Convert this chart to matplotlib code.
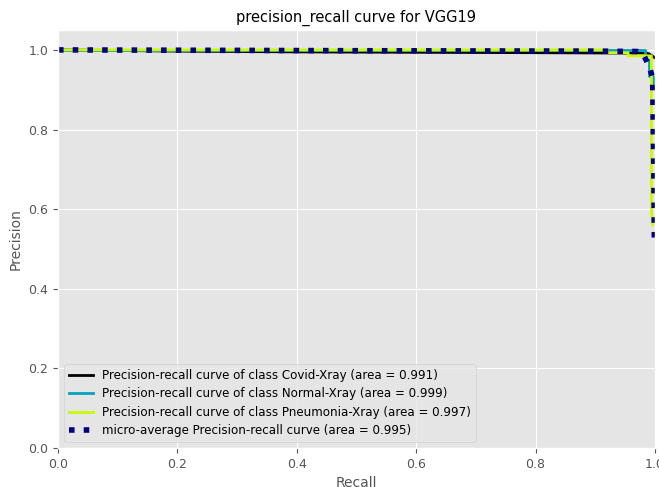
import matplotlib
matplotlib.use("Agg")
import matplotlib.pyplot as plt
import numpy as np

plt.style.use("ggplot")

classes = ["Covid-Xray", "Normal-Xray", "Pneumonia-Xray"]
areas = [0.991, 0.999, 0.997]
micro_area = 0.995

# recall / precision points for each class curve
covid_recall = [0.0, 0.2, 0.4, 0.6, 0.8, 0.95, 0.985, 0.99, 0.995, 1.0]
covid_precision = [1.0, 0.997, 0.995, 0.994, 0.993, 0.992, 0.992, 0.99, 0.985, 0.98]

normal_recall = [0.0, 0.5, 0.9, 0.983, 0.983, 0.99, 0.99, 0.996, 0.996]
normal_precision = [1.0, 1.0, 1.0, 1.0, 0.975, 0.975, 0.935, 0.935, 0.915]

pneu_recall = [0.0, 0.5, 0.92, 0.92, 0.955, 0.955, 0.994, 0.994, 0.996]
pneu_precision = [1.0, 1.0, 1.0, 0.993, 0.993, 0.985, 0.985, 0.60, 0.56]

micro_recall = [0.0, 0.5, 0.9, 0.97, 0.98, 0.985, 0.99, 0.996, 0.998, 0.999]
micro_precision = [1.0, 0.998, 0.997, 0.996, 0.99, 0.975, 0.96, 0.93, 0.70, 0.51]

series = [
    (covid_recall, covid_precision),
    (normal_recall, normal_precision),
    (pneu_recall, pneu_precision),
]

fig = plt.figure(figsize=(6.59, 4.87), dpi=100)
ax = fig.add_axes([58 / 659, 39 / 487, 597 / 659, 418 / 487])

cmap = plt.get_cmap("nipy_spectral")
for i, (name, area, (r, p)) in enumerate(zip(classes, areas, series)):
    color = cmap(float(i) / len(classes))
    ax.plot(r, p, lw=2, color=color,
            label="Precision-recall curve of class {0} (area = {1:0.3f})".format(name, area))

ax.plot(micro_recall, micro_precision, linestyle=":", linewidth=4, color="navy",
        label="micro-average Precision-recall curve (area = {0:0.3f})".format(micro_area))

ax.set_xlim([0.0, 1.0])
ax.set_ylim([0.0, 1.05])
ax.set_xlabel("Recall", fontsize=10)
ax.set_ylabel("Precision", fontsize=10)
ax.set_title("precision_recall curve for VGG19", fontsize=10.5, color="black")
ax.tick_params(labelsize=9)
ax.legend(loc="lower left", fontsize=8.6, borderaxespad=0.5, labelspacing=0.45)

fig.savefig("out.png", dpi=100)
